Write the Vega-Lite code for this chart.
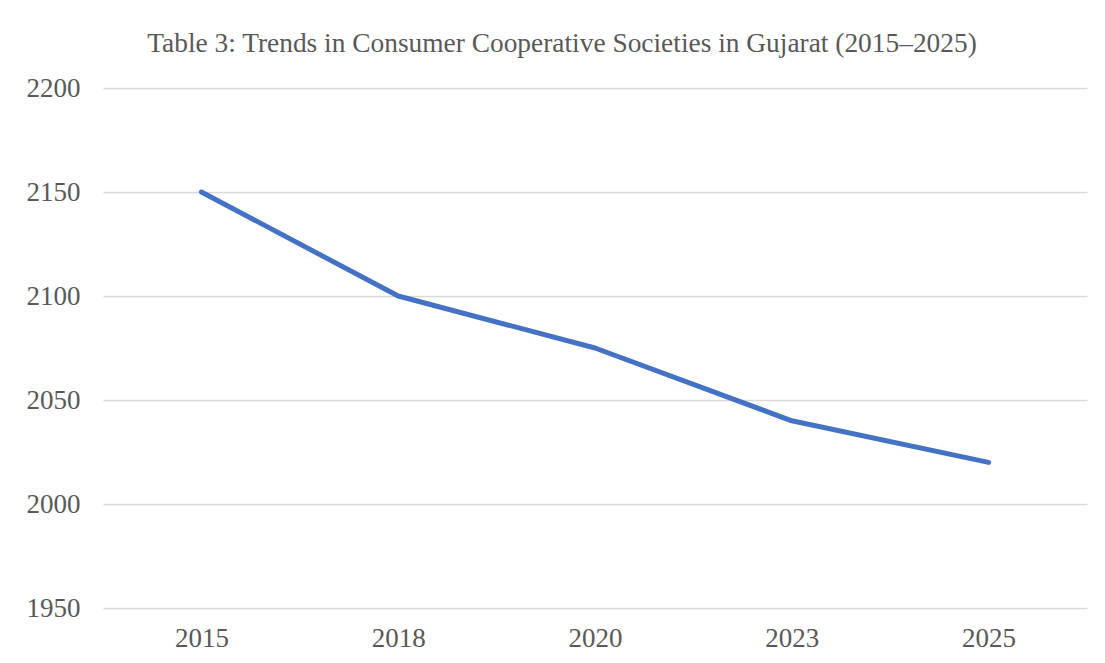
{
  "$schema": "https://vega.github.io/schema/vega-lite/v6.json",
  "autosize": "none",
  "width": 984,
  "height": 520,
  "padding": {"left": 103, "top": 88, "right": 18, "bottom": 55},
  "background": "white",
  "title": {
    "text": "Table 3: Trends in Consumer Cooperative Societies in Gujarat (2015–2025)",
    "font": "Liberation Serif",
    "fontSize": 27.4,
    "fontWeight": "normal",
    "color": "#595959",
    "anchor": "middle",
    "dx": -33,
    "offset": 17
  },
  "data": {
    "values": [
      {"year": "2015", "value": 2150},
      {"year": "2018", "value": 2100},
      {"year": "2020", "value": 2075},
      {"year": "2023", "value": 2040},
      {"year": "2025", "value": 2020}
    ]
  },
  "mark": {"type": "line", "color": "#4472C4", "strokeWidth": 5, "strokeCap": "round", "strokeJoin": "round"},
  "encoding": {
    "x": {
      "field": "year",
      "type": "ordinal",
      "sort": null,
      "scale": {"type": "point", "padding": 0.5},
      "axis": {
        "title": null,
        "labelAngle": 0,
        "domain": false,
        "ticks": false,
        "grid": false,
        "labelFont": "Liberation Serif",
        "labelFontSize": 27,
        "labelColor": "#595959",
        "labelPadding": 17
      }
    },
    "y": {
      "field": "value",
      "type": "quantitative",
      "scale": {"domain": [1950, 2200], "zero": false, "nice": false},
      "axis": {
        "title": null,
        "format": "d",
        "values": [1950, 2000, 2050, 2100, 2150, 2200],
        "domain": false,
        "ticks": false,
        "grid": true,
        "gridColor": "#d9d9d9",
        "gridWidth": 1.5,
        "labelFont": "Liberation Serif",
        "labelFontSize": 27,
        "labelColor": "#595959",
        "labelPadding": 23
      }
    }
  },
  "config": {"view": {"stroke": null}}
}
